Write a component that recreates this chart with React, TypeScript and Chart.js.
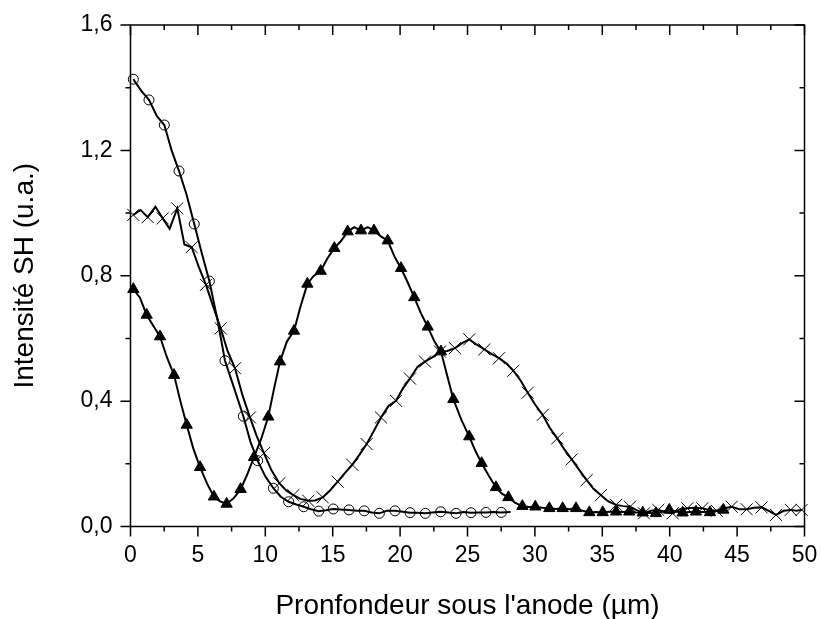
import React, { useEffect, useRef } from "react";
import { Chart, registerables } from "chart.js";

Chart.register(...registerables);

// ---- Data (markers on even indices, intermediate line points on odd) ----
const circleX = [0.21, 0.8, 1.37, 1.95, 2.51, 3.05, 3.6, 4.15, 4.73, 5.3, 5.85, 6.45, 7.01, 7.7, 8.37, 8.9, 9.43, 10.0, 10.6, 11.15, 11.73, 12.3, 12.85, 13.4, 13.96, 14.5, 15.04, 15.6, 16.21, 16.8, 17.34, 17.9, 18.46, 19.0, 19.62, 20.2, 20.74, 21.3, 21.87, 22.4, 23.01, 23.6, 24.15, 24.7, 25.26, 25.8, 26.37, 26.9, 27.51, 28.2];
const circleY = [1.427, 1.39, 1.361, 1.31, 1.281, 1.2, 1.134, 1.06, 0.965, 0.87, 0.783, 0.66, 0.529, 0.44, 0.352, 0.27, 0.21, 0.16, 0.122, 0.095, 0.079, 0.07, 0.063, 0.055, 0.049, 0.052, 0.056, 0.054, 0.053, 0.05, 0.05, 0.045, 0.042, 0.05, 0.05, 0.047, 0.044, 0.044, 0.042, 0.045, 0.047, 0.045, 0.042, 0.046, 0.044, 0.045, 0.045, 0.046, 0.045, 0.046];

const triX = [0.21, 0.7, 1.2, 1.7, 2.19, 2.7, 3.23, 3.7, 4.17, 4.65,
  5.16, 5.7, 6.19, 6.65, 7.13, 7.65, 8.17, 8.65, 9.16, 9.7,
  10.22, 10.65, 11.09, 11.6, 12.13, 12.6, 13.12, 13.6, 14.11, 14.6,
  15.12, 15.6, 16.11, 16.6, 17.1, 17.6, 18.06, 18.6, 19.08, 19.6,
  20.07, 20.55, 21.05, 21.55, 22.05, 22.55, 23.03, 23.5, 23.95, 24.55,
  25.13, 25.6, 26.05, 26.6, 27.11, 27.55, 28.03, 28.55, 29.07, 29.55,
  30.03, 30.55, 31.07, 31.55, 32.06, 32.55, 33.05, 33.55, 34.04, 34.55,
  35.03, 35.5, 36.02, 36.5, 37.0, 37.5, 38.0, 38.5, 38.98, 39.5,
  39.97, 40.45, 40.96, 41.45, 41.95, 42.45, 42.99, 43.5, 43.98];
const triY = [0.757, 0.73, 0.675, 0.64, 0.606, 0.54, 0.483, 0.4, 0.324, 0.25,
  0.189, 0.135, 0.095, 0.08, 0.072, 0.09, 0.119, 0.165, 0.221, 0.28,
  0.35, 0.44, 0.526, 0.59, 0.624, 0.7, 0.774, 0.8, 0.815, 0.855,
  0.888, 0.91, 0.941, 0.955, 0.944, 0.955, 0.944, 0.925, 0.912, 0.86,
  0.824, 0.78, 0.731, 0.68, 0.637, 0.59, 0.558, 0.48, 0.406, 0.34,
  0.287, 0.24, 0.202, 0.16, 0.125, 0.105, 0.093, 0.075, 0.065, 0.062,
  0.063, 0.06, 0.058, 0.056, 0.058, 0.055, 0.058, 0.05, 0.045, 0.046,
  0.045, 0.047, 0.047, 0.046, 0.047, 0.045, 0.044, 0.043, 0.042, 0.048,
  0.053, 0.048, 0.044, 0.046, 0.047, 0.046, 0.045, 0.05, 0.053];

const crossX = [0.21, 0.75, 1.28, 1.85, 2.39, 2.9, 3.47, 4.0, 4.54, 5.05,
  5.6, 6.15, 6.69, 7.2, 7.75, 8.3, 8.86, 9.35, 9.9, 10.45,
  11.04, 11.55, 12.08, 12.6, 13.19, 13.7, 14.26, 14.8, 15.37, 15.9,
  16.45, 17.0, 17.52, 18.05, 18.58, 19.15, 19.7, 20.2, 20.73, 21.3,
  21.85, 22.4, 22.96, 23.5, 24.07, 24.6, 25.13, 25.7, 26.25, 26.8,
  27.34, 27.9, 28.4, 28.95, 29.47, 30.0, 30.58, 31.1, 31.66, 32.2,
  32.73, 33.3, 33.84, 34.35, 34.9, 35.45, 36.02, 36.55, 37.05, 37.55,
  38.09, 38.6, 39.15, 39.7, 40.22, 40.75, 41.31, 41.85, 42.42, 42.95,
  43.49, 44.05, 44.6, 45.15, 45.71, 46.25, 46.82, 47.35, 47.89, 48.45,
  48.98, 49.4, 49.79];
const crossY = [0.994, 1.01, 0.987, 1.02, 0.983, 0.95, 1.015, 0.9, 0.891, 0.83,
  0.771, 0.7, 0.632, 0.56, 0.505, 0.42, 0.348, 0.29, 0.234, 0.18,
  0.138, 0.115, 0.1, 0.088, 0.082, 0.083, 0.093, 0.115, 0.143, 0.17,
  0.197, 0.23, 0.263, 0.305, 0.348, 0.385, 0.401, 0.44, 0.472, 0.51,
  0.526, 0.54, 0.558, 0.56, 0.569, 0.585, 0.597, 0.58, 0.565, 0.55,
  0.537, 0.52, 0.497, 0.465, 0.427, 0.39, 0.356, 0.315, 0.281, 0.245,
  0.214, 0.18, 0.148, 0.12, 0.1, 0.08, 0.069, 0.065, 0.063, 0.052,
  0.042, 0.05, 0.053, 0.045, 0.042, 0.055, 0.058, 0.06, 0.058, 0.052,
  0.05, 0.058, 0.063, 0.055, 0.055, 0.06, 0.061, 0.05, 0.037, 0.05,
  0.053, 0.05, 0.053];

const xTitle = "Pronfondeur sous l'anode (µm)";
const yTitle = "Intensité SH (u.a.)";
const X_MIN = 0, X_MAX = 50, X_MAJOR = 5, X_MINOR = 2.5;
const Y_MIN = 0, Y_MAX = 1.6, Y_MAJOR = 0.4, Y_MINOR = 0.2;

const FONT = "'Liberation Sans', Arial, Helvetica, sans-serif";

const toPoints = (xs: number[], ys: number[]) => xs.map((x, i) => ({ x, y: ys[i] }));

const frameTicks = {
  id: "frameTicks",
  afterDraw(chart: any) {
    const { ctx, chartArea } = chart;
    const { left, right, top, bottom } = chartArea;
    const xs = chart.scales.x;
    const ys = chart.scales.y;
    ctx.save();
    ctx.strokeStyle = "#000";
    ctx.lineWidth = 1.5;
    ctx.strokeRect(left, top, right - left, bottom - top);
    ctx.beginPath();
    const nX = Math.round((X_MAX - X_MIN) / X_MINOR);
    for (let i = 0; i <= nX; i++) {
      const v = X_MIN + i * X_MINOR;
      const px = xs.getPixelForValue(v);
      const major = i % Math.round(X_MAJOR / X_MINOR) === 0;
      const len = major ? 10 : 5;
      ctx.moveTo(px, bottom);
      ctx.lineTo(px, bottom + len);
      ctx.moveTo(px, top);
      ctx.lineTo(px, top + len);
    }
    const nY = Math.round((Y_MAX - Y_MIN) / Y_MINOR);
    for (let i = 0; i <= nY; i++) {
      const v = Y_MIN + i * Y_MINOR;
      const py = ys.getPixelForValue(v);
      const major = i % Math.round(Y_MAJOR / Y_MINOR) === 0;
      const len = major ? 10 : 5;
      ctx.moveTo(left, py);
      ctx.lineTo(left - len, py);
      ctx.moveTo(right, py);
      ctx.lineTo(right - len, py);
    }
    ctx.stroke();
    ctx.restore();
  },
};

export default function App() {
  const ref = useRef<HTMLCanvasElement | null>(null);
  useEffect(() => {
    document.body.style.margin = "0";
    document.body.style.overflow = "hidden";
    const canvas = ref.current;
    if (!canvas) return;
    const markerEven = (r: number) => (c: any) => (c.dataIndex % 2 === 0 ? r : 0);
    const chart = new Chart(canvas, {
      type: "line",
      data: {
        datasets: [
          {
            data: toPoints(circleX, circleY),
            borderColor: "#000",
            borderWidth: 2,
            pointStyle: "circle",
            pointRadius: markerEven(5),
            pointBorderWidth: 1,
            pointBorderColor: "#000",
            pointBackgroundColor: "rgba(0,0,0,0)",
            tension: 0,
            clip: 10,
          } as any,
          {
            data: toPoints(crossX, crossY),
            borderColor: "#000",
            borderWidth: 2,
            pointStyle: "crossRot",
            pointRadius: markerEven(8.5),
            pointBorderWidth: 1,
            pointBorderColor: "#000",
            tension: 0,
            clip: 10,
          } as any,
          {
            data: toPoints(triX, triY),
            borderColor: "#000",
            borderWidth: 2,
            pointStyle: "triangle",
            pointRadius: markerEven(6.5),
            pointBorderWidth: 1,
            pointBorderColor: "#000",
            pointBackgroundColor: "#000",
            tension: 0,
            clip: 10,
          } as any,
        ],
      },
      options: {
        animation: false,
        responsive: false,
        events: [],
        layout: { padding: { top: 25, right: 16.5, left: 0, bottom: 0 } },
        plugins: { legend: { display: false }, tooltip: { enabled: false }, title: { display: false } },
        scales: {
          x: {
            type: "linear",
            min: X_MIN,
            max: X_MAX,
            grid: { display: false, drawTicks: false },
            border: { display: false },
            ticks: {
              stepSize: X_MAJOR,
              padding: 15,
              color: "#000",
              font: { family: FONT, size: 23 },
              maxRotation: 0,
              callback: (v: any) => String(v),
            },
            title: {
              display: true,
              text: xTitle,
              color: "#000",
              font: { family: FONT, size: 28, lineHeight: 0.9 },
              padding: { top: 0, bottom: 0 },
            },
            afterFit: (s: any) => {
              s.height = 92.5;
              s.paddingLeft = 0;
              s.paddingRight = 0;
            },
          },
          y: {
            type: "linear",
            min: Y_MIN,
            max: Y_MAX,
            grid: { display: false, drawTicks: false },
            border: { display: false },
            ticks: {
              stepSize: Y_MAJOR,
              padding: 18,
              color: "#000",
              font: { family: FONT, size: 23 },
              callback: (v: any) => Number(v).toFixed(1).replace(".", ","),
            },
            title: {
              display: true,
              text: yTitle,
              color: "#000",
              font: { family: FONT, size: 28 },
              padding: { top: 8, bottom: 0 },
            },
            afterFit: (s: any) => {
              s.width = 130.5;
              s.paddingTop = 0;
              s.paddingBottom = 0;
            },
          },
        },
      } as any,
      plugins: [frameTicks],
    });
    return () => chart.destroy();
  }, []);
  return <canvas ref={ref} width={821} height={619} style={{ display: "block" }} />;
}
